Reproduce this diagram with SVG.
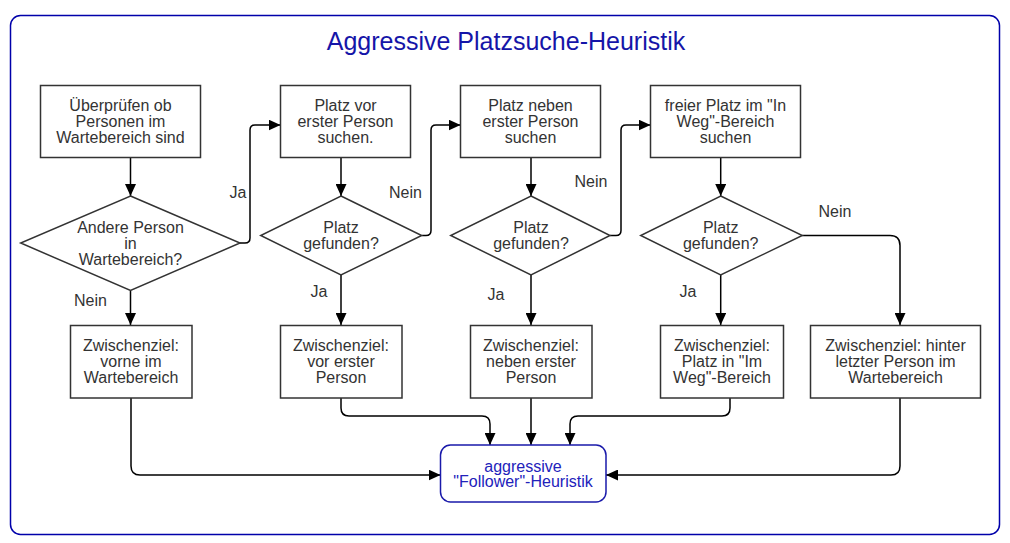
<svg xmlns="http://www.w3.org/2000/svg" width="1010" height="543" viewBox="0 0 1010 543">
<defs>
<marker id="arr" markerUnits="userSpaceOnUse" markerWidth="12" markerHeight="11" refX="12" refY="5.5" orient="auto">
<path d="M0,0 L12,5.5 L0,11 z" fill="#000"/>
</marker>
<style>
.box{fill:#fff;stroke:#333;stroke-width:1.5}
.t{font-family:"Liberation Sans",Arial,sans-serif;font-size:16px;fill:#333;text-anchor:middle}
.c{fill:none;stroke:#000;stroke-width:1.5;marker-end:url(#arr)}
.l{font-family:"Liberation Sans",Arial,sans-serif;font-size:16px;fill:#333;text-anchor:middle}
</style>
</defs>
<rect width="1010" height="543" fill="#fff"/>
<rect x="10.5" y="15.5" width="989" height="519" rx="10" fill="#fff" stroke="#0000aa" stroke-width="1.5"/>
<text x="506" y="50" font-family="'Liberation Sans',Arial,sans-serif" font-size="25" fill="#1515a8" text-anchor="middle">Aggressive Platzsuche-Heuristik</text>

<g id="connectors">
<path class="c" d="M130.5,158 V196"/>
<path class="c" d="M240,243 H245 Q250,243 250,238 V130 Q250,125 255,125 H280.5"/>
<path class="c" d="M130.5,291 V325"/>
<path class="c" d="M341,158 V196"/>
<path class="c" d="M421.7,235.5 H426 Q431,235.5 431,230.5 V130 Q431,125 436,125 H460.5"/>
<path class="c" d="M341,275 V325"/>
<path class="c" d="M531,158 V196"/>
<path class="c" d="M610,235.5 H616 Q621,235.5 621,230.5 V130 Q621,125 626,125 H650.5"/>
<path class="c" d="M531,275 V325"/>
<path class="c" d="M720.7,158 V196"/>
<path class="c" d="M802.3,235.5 H890 Q900,235.5 900,245.5 V325"/>
<path class="c" d="M720.7,275 V325"/>
<path class="c" d="M131,398 V466 Q131,475 140,475 H440.5"/>
<path class="c" d="M341,398 V408 Q341,416 349,416 H482 Q490,416 490,424 V445"/>
<path class="c" d="M531,398 V445"/>
<path class="c" d="M730,398 V408 Q730,416 722,416 H578 Q570,416 570,424 V445"/>
<path class="c" d="M900,398 V466 Q900,475 891,475 H606"/>
<text class="l" x="238" y="198">Ja</text>
<text class="l" x="90.5" y="306">Nein</text>
<text class="l" x="405.5" y="198">Nein</text>
<text class="l" x="319" y="297">Ja</text>
<text class="l" x="591" y="187">Nein</text>
<text class="l" x="496" y="300">Ja</text>
<text class="l" x="835" y="217">Nein</text>
<text class="l" x="688" y="297">Ja</text>
</g>

<g id="b1"><rect class="box" x="40.5" y="85.5" width="160" height="72"/>
<text class="t" x="120.5" y="111">Überprüfen ob<tspan x="120.5" dy="16">Personen im</tspan><tspan x="120.5" dy="16">Wartebereich sind</tspan></text></g>
<g id="d1"><polygon class="box" points="130.5,196 240,243 130.5,290.5 20.7,243"/>
<text class="t" x="130.5" y="233">Andere Person<tspan x="130.5" dy="16">in</tspan><tspan x="130.5" dy="16">Wartebereich?</tspan></text></g>
<g id="b5"><rect class="box" x="70.5" y="325.5" width="121.5" height="72.5"/>
<text class="t" x="131" y="351">Zwischenziel:<tspan x="131" dy="16">vorne im</tspan><tspan x="131" dy="16">Wartebereich</tspan></text></g>

<g id="b2"><rect class="box" x="280.5" y="85.5" width="130" height="72"/>
<text class="t" x="345.5" y="111">Platz vor<tspan x="345.5" dy="16">erster Person</tspan><tspan x="345.5" dy="16">suchen.</tspan></text></g>
<g id="d2"><polygon class="box" points="341,196 421.7,235.5 341,275 260.7,235.5"/>
<text class="t" x="341" y="233">Platz<tspan x="341" dy="15.5">gefunden?</tspan></text></g>
<g id="b6"><rect class="box" x="280.5" y="325.5" width="121.5" height="72.5"/>
<text class="t" x="341" y="351">Zwischenziel:<tspan x="341" dy="16">vor erster</tspan><tspan x="341" dy="16">Person</tspan></text></g>

<g id="b3"><rect class="box" x="460.5" y="85.5" width="140" height="72"/>
<text class="t" x="530.5" y="111">Platz neben<tspan x="530.5" dy="16">erster Person</tspan><tspan x="530.5" dy="16">suchen</tspan></text></g>
<g id="d3"><polygon class="box" points="531,196 610,235.5 531,275 450.7,235.5"/>
<text class="t" x="531" y="233">Platz<tspan x="531" dy="15.5">gefunden?</tspan></text></g>
<g id="b7"><rect class="box" x="470.5" y="325.5" width="121.5" height="72.5"/>
<text class="t" x="531" y="351">Zwischenziel:<tspan x="531" dy="16">neben erster</tspan><tspan x="531" dy="16">Person</tspan></text></g>

<g id="b4"><rect class="box" x="650.5" y="85.5" width="150" height="72"/>
<text class="t" x="725.5" y="111">freier Platz im "In<tspan x="725.5" dy="16">Weg"-Bereich</tspan><tspan x="725.5" dy="16">suchen</tspan></text></g>
<g id="d4"><polygon class="box" points="720.7,196 802.3,235.5 720.7,275 640.7,235.5"/>
<text class="t" x="720.7" y="233">Platz<tspan x="720.7" dy="15.5">gefunden?</tspan></text></g>
<g id="b8"><rect class="box" x="660.5" y="325.5" width="123" height="72.5"/>
<text class="t" x="722" y="351">Zwischenziel:<tspan x="722" dy="16">Platz in "Im</tspan><tspan x="722" dy="16">Weg"-Bereich</tspan></text></g>

<g id="b9"><rect class="box" x="810.5" y="325.5" width="170" height="72.5"/>
<text class="t" x="895.5" y="351">Zwischenziel: hinter<tspan x="895.5" dy="16">letzter Person im</tspan><tspan x="895.5" dy="16">Wartebereich</tspan></text></g>

<g id="final"><rect x="440.5" y="445" width="165.5" height="57" rx="10" fill="#fff" stroke="#1a1aaa" stroke-width="1.5"/>
<text class="t" x="523" y="471.5" style="fill:#2222bb">aggressive<tspan x="523" dy="15.5">"Follower"-Heuristik</tspan></text></g>
</svg>
